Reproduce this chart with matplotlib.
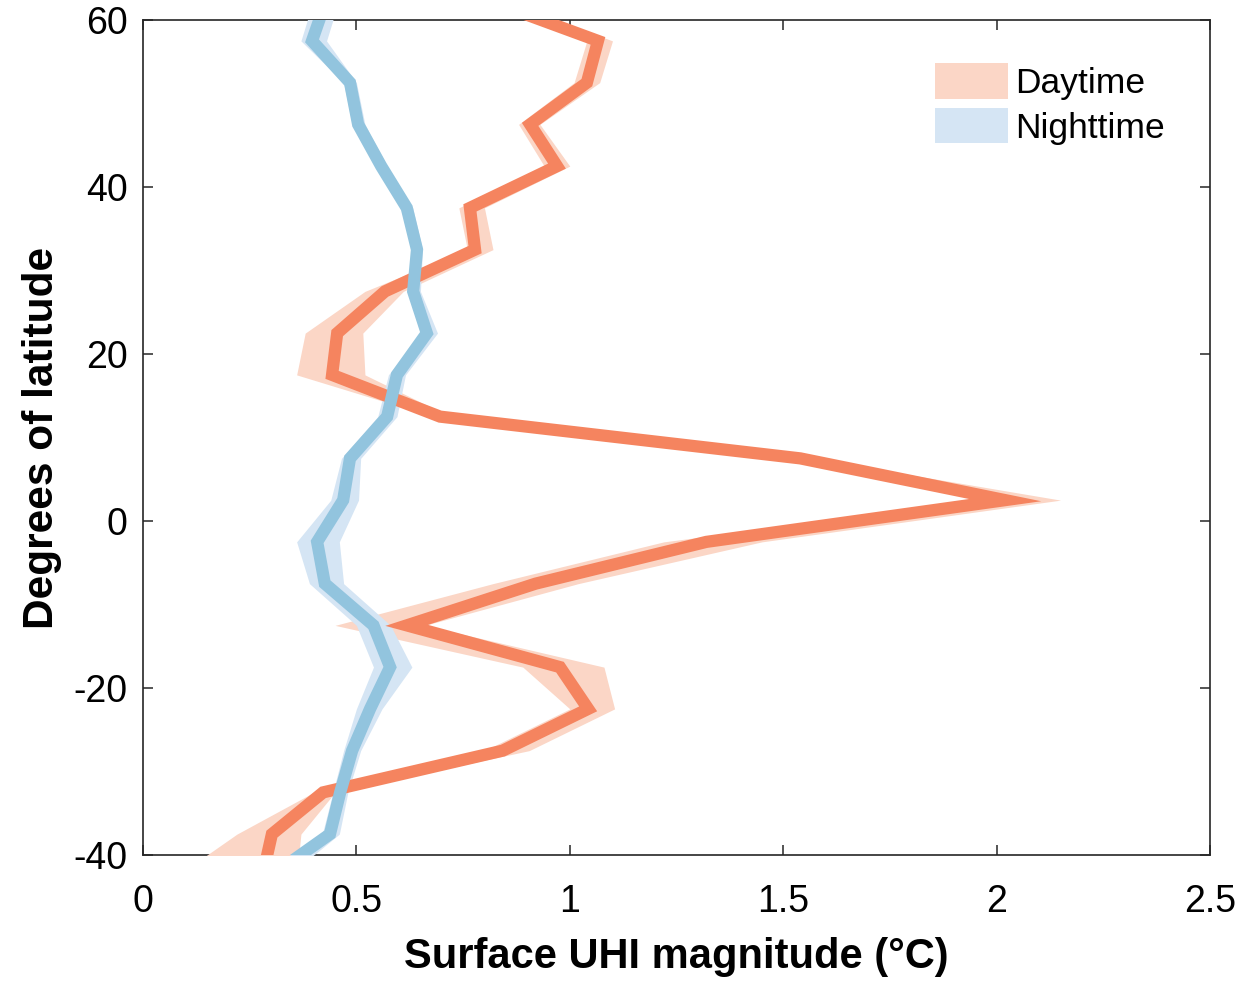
import matplotlib
matplotlib.use("Agg")
import matplotlib.pyplot as plt
from matplotlib.patches import Patch

plt.rcParams['font.family'] = ['Liberation Sans', 'DejaVu Sans']
plt.rcParams['axes.unicode_minus'] = False

latitude = [62.5, 57.5, 52.5, 47.5, 42.5, 37.5, 32.5, 27.5, 22.5, 17.5, 12.5, 7.5,
            2.5, -2.5, -7.5, -12.5, -17.5, -22.5, -27.5, -32.5, -37.5, -42.5]

day_mean = [0.80, 1.066, 1.04, 0.907, 0.97, 0.766, 0.778, 0.567, 0.455, 0.443, 0.696, 1.54,
            2.02, 1.32, 0.92, 0.618, 0.977, 1.043, 0.843, 0.422, 0.302, 0.28]
day_lo = [0.76, 1.04, 1.01, 0.88, 0.94, 0.74, 0.76, 0.52, 0.38, 0.36, 0.68, 1.52,
          1.97, 1.22, 0.82, 0.45, 0.89, 1.00, 0.80, 0.40, 0.22, 0.08]
day_hi = [0.84, 1.10, 1.07, 0.93, 1.00, 0.80, 0.82, 0.61, 0.515, 0.52, 0.72, 1.57,
          2.15, 1.45, 1.02, 0.66, 1.08, 1.105, 0.905, 0.45, 0.37, 0.36]

night_mean = [0.43, 0.396, 0.485, 0.504, 0.558, 0.618, 0.642, 0.633, 0.665, 0.595, 0.572, 0.485,
              0.469, 0.408, 0.426, 0.54, 0.579, 0.532, 0.49, 0.462, 0.438, 0.30]
night_lo = [0.40, 0.37, 0.47, 0.49, 0.545, 0.605, 0.63, 0.62, 0.65, 0.575, 0.55, 0.465,
            0.44, 0.36, 0.39, 0.50, 0.54, 0.50, 0.47, 0.445, 0.42, 0.27]
night_hi = [0.46, 0.43, 0.50, 0.52, 0.572, 0.632, 0.655, 0.65, 0.69, 0.615, 0.595, 0.51,
            0.505, 0.46, 0.47, 0.58, 0.63, 0.56, 0.51, 0.48, 0.46, 0.34]

x_ticks = [0, 0.5, 1, 1.5, 2, 2.5]
x_ticklabels = ['0', '0.5', '1', '1.5', '2', '2.5']
y_ticks = [-40, -20, 0, 20, 40, 60]

day_line = '#F5845F'
day_band = '#FBD6C6'
night_line = '#92C4DE'
night_band = '#D5E5F4'

fig = plt.figure(figsize=(12.46, 9.82), dpi=100)
ax = fig.add_axes([143/1246, 1 - 855/982, (1210-143)/1246, (855-20)/982])

ax.fill_betweenx(latitude, day_lo, day_hi, color=day_band, lw=0, zorder=3)
ax.fill_betweenx(latitude, night_lo, night_hi, color=night_band, lw=0, zorder=3)
ax.plot(day_mean, latitude, color=day_line, lw=8.8, solid_joinstyle='miter', zorder=4)
ax.plot(night_mean, latitude, color=night_line, lw=8.8, solid_joinstyle='miter', zorder=4)

ax.set_xlim(0, 2.5)
ax.set_ylim(-40, 60)
ax.set_xticks(x_ticks)
ax.set_xticklabels(x_ticklabels)
ax.set_yticks(y_ticks)
ax.tick_params(direction='in', length=7, width=1.1, colors='#262626',
               labelsize=27, top=True, right=True, labelcolor='black')
ax.tick_params(axis='x', pad=21)
ax.tick_params(axis='y', pad=11)
for s in ax.spines.values():
    s.set_linewidth(1.2)
    s.set_color('#262626')

ax.set_xlabel('Surface UHI magnitude (°C)', fontsize=30, fontweight='bold', labelpad=12)
ax.set_ylabel('Degrees of latitude', fontsize=30.5, fontweight='bold', labelpad=8)

handles = [Patch(facecolor=day_band, edgecolor='none', label='Daytime'),
           Patch(facecolor=night_band, edgecolor='none', label='Nighttime')]
ax.legend(handles=handles, loc='upper right', bbox_to_anchor=(0.958, 0.948),
          frameon=False, fontsize=25.5, handlelength=2.06, handleheight=1.16,
          handletextpad=0.22, labelspacing=0.22, borderaxespad=0, borderpad=0)

fig.savefig('out.png', dpi=100, facecolor='white')
